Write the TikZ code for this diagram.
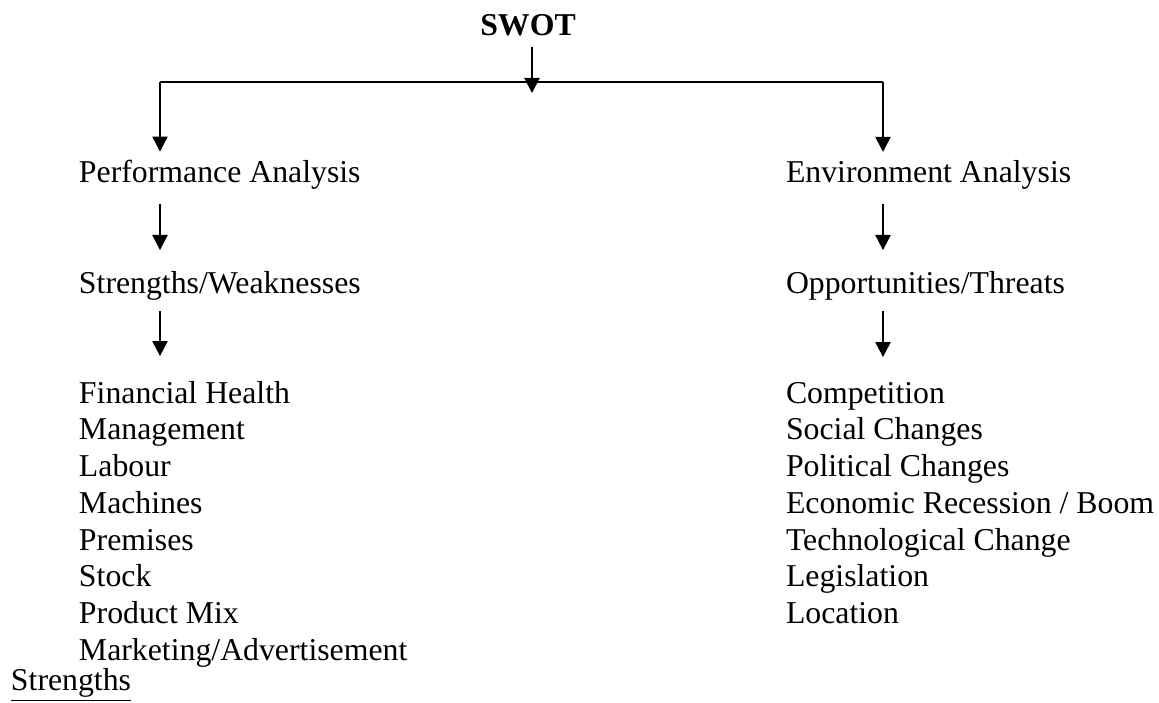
\documentclass[tikz,border=0pt]{standalone}
\usepackage{fontspec}
\setmainfont{Liberation Serif}
\usetikzlibrary{arrows.meta,calc}

\begin{document}
\begin{tikzpicture}[x=0.3775pt, y=-0.3775pt, >={Triangle[length=5.7pt,width=5.7pt]}, line width=0.75pt]
\tikzstyle{lbl}=[anchor=base west, inner sep=0pt, font=\fontsize{12}{13.8}\selectfont]
\useasboundingbox (0,0) rectangle (1159,702);
% headings
\node[lbl, anchor=base, font=\fontsize{12}{13.8}\selectfont\bfseries] (swot) at (528,35) {SWOT};
\node[lbl] (perf) at (78,182)  {Performance Analysis};
\node[lbl] (env)  at (785,182) {Environment Analysis};
\node[lbl] (sw)   at (78,293)  {Strengths/Weaknesses};
\node[lbl] (ot)   at (785,293) {Opportunities/Threats};
% lists
\foreach \t [count=\i] in {Financial Health, Management, Labour, Machines,
    Premises, Stock, Product Mix, Marketing/Advertisement}
  \node[lbl] (s\i) at (78,{403+36.75*(\i-1)}) {\t};
\foreach \t [count=\i] in {Competition, Social Changes, Political Changes,
    Economic Recession / Boom, Technological Change, Legislation, Location}
  \node[lbl] (o\i) at (785,{403+36.75*(\i-1)}) {\t};
\node[lbl] (str) at (10,690) {\underline{Strengths}};
% split
\coordinate (hub) at (532,93);
\coordinate (lt)  at (160,82);
\coordinate (rt)  at (883,82);
\draw[->, shorten <=3.8pt] (swot.south -| hub) -- (hub);
\draw (lt) -- (rt);
\draw[->] (lt) -- ($(lt |- perf.north)+(0,-7)$);
\draw[->] (rt) -- ($(rt |- env.north)+(0,-7)$);
% down arrows
\path[->]
(perf.south -| lt) edge[shorten <=5.3pt, shorten >=7.5pt] (sw.north -| lt)
(sw.south -| lt)   edge[shorten <=3.8pt, shorten >=9pt]   (s1.north -| lt)
(env.south -| rt)  edge[shorten <=5.3pt, shorten >=7.5pt] (ot.north -| rt)
(ot.south -| rt)   edge[shorten <=3.8pt, shorten >=9pt]   (o1.north -| rt);
\end{tikzpicture}
\end{document}
